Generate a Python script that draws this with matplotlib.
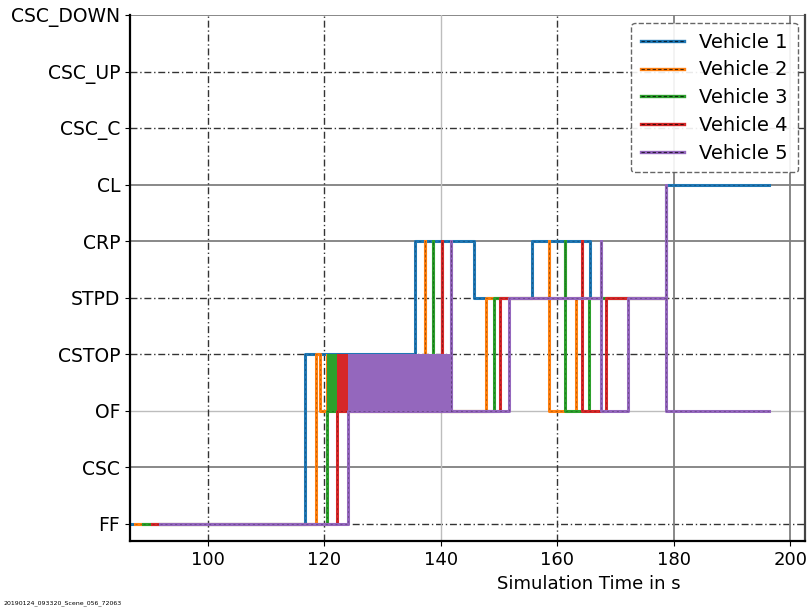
import numpy as np
import matplotlib
matplotlib.use("Agg")
import matplotlib.pyplot as plt
from matplotlib.lines import Line2D

# ------------------------------------------------------------
# Etats (axe y) et traces des vehicules
# ------------------------------------------------------------
states = ['FF', 'CSC', 'OF', 'CSTOP', 'STPD', 'CRP', 'CL', 'CSC_C', 'CSC_UP', 'CSC_DOWN']
S = {name: i for i, name in enumerate(states)}

vehicles = ['Vehicle 1', 'Vehicle 2', 'Vehicle 3', 'Vehicle 4', 'Vehicle 5']
colors = ['#1f77b4', '#ff7f0e', '#2ca02c', '#d62728', '#9467bd']

# instants de changement d'etat (s) et etat atteint
t_v1 = [86.3, 116.65, 135.54, 145.67, 155.62, 165.58, 178.63, 196.31]
s_v1 = ['FF', 'CSTOP', 'CRP', 'STPD', 'CRP', 'STPD', 'CL', 'CL']

t_v2 = [87.47, 118.54, 119.23, 137.25, 137.25, 147.73, 158.54, 158.54, 163.18, 178.63]
s_v2 = ['FF', 'CSTOP', 'OF', 'CRP', 'OF', 'STPD', 'CRP', 'OF', 'STPD', 'STPD']

t_v3 = [88.84, 120.43, 138.63, 138.63, 149.10, 161.29, 161.29, 165.41, 178.63]
s_v3 = ['FF', 'OF', 'CRP', 'OF', 'STPD', 'CRP', 'OF', 'STPD', 'STPD']

t_v4 = [90.39, 122.15, 140.17, 140.17, 150.13, 164.21, 164.21, 168.33, 178.63]
s_v4 = ['FF', 'OF', 'CRP', 'OF', 'STPD', 'CRP', 'OF', 'STPD', 'STPD']

t_v5 = [91.76, 124.03, 141.72, 141.72, 151.67, 167.47, 167.47, 172.10, 178.63, 178.63, 196.31]
s_v5 = ['FF', 'OF', 'CRP', 'OF', 'STPD', 'CRP', 'OF', 'STPD', 'CL', 'OF', 'OF']

# oscillation rapide OF <-> CSTOP (debut, fin) ; None = pas d'oscillation
osc = [None, (120.3, 137.25), (120.43, 138.63), (122.15, 140.17), (124.03, 141.72)]

times = [t_v1, t_v2, t_v3, t_v4, t_v5]
traces = [s_v1, s_v2, s_v3, s_v4, s_v5]

x_ticks = [100, 120, 140, 160, 180, 200]

# ------------------------------------------------------------
fig = plt.figure(figsize=(8.11, 6.09), dpi=100)
ax = fig.add_axes([0.160, 0.112, 0.833, 0.863])

# grille (melange pointilles sombres / traits gris)
hstyle = {'FF': 'd', 'CSC': 'g', 'OF': 'l', 'CSTOP': 'd', 'STPD': 'd',
          'CRP': 'g', 'CL': 'g', 'CSC_C': 'd', 'CSC_UP': 'd', 'CSC_DOWN': 'g'}
vstyle = {100: 'd', 120: 'd', 140: 'l', 160: 'd', 180: 'g', 200: 'g'}
kw = {'d': dict(color='#333333', lw=1.0, ls=(0, (5, 2, 1, 2))),
      'g': dict(color='#7f7f7f', lw=1.3, ls='-'),
      'l': dict(color='#bdbdbd', lw=1.0, ls='-')}
for name in states:
    ax.axhline(S[name], zorder=0, **kw[hstyle[name]])
for xv in x_ticks:
    ax.axvline(xv, zorder=0, **kw[vstyle[xv]])

handles = []
for i in range(5):
    y = [S[s] for s in traces[i]]
    if osc[i] is not None:
        ax.fill_between(list(osc[i]), S['OF'], S['CSTOP'], color=colors[i],
                        lw=0, zorder=2 + i)
    ax.plot(times[i], y, drawstyle='steps-post', color=colors[i], lw=2.2,
            zorder=2 + i)
    ax.plot(times[i], y, drawstyle='steps-post', color='black', lw=0.5,
            ls=(0, (3, 4)), alpha=0.35, zorder=2 + i)
    h1 = Line2D([], [], color=colors[i], lw=2.4)
    h2 = Line2D([], [], color='black', lw=0.8, ls=(0, (3, 2)), alpha=0.7)
    handles.append((h1, h2))

ax.set_xlim(86.6, 202.6)
ax.set_ylim(-0.3, 9)
ax.set_yticks(range(len(states)))
ax.set_yticklabels(states, fontsize=13.5)
ax.set_xticks(x_ticks)
ax.set_xticklabels([str(v) for v in x_ticks], fontsize=13)
ax.set_xlabel('Simulation Time in s', fontsize=13)
ax.xaxis.set_label_coords(0.68, -0.065)
for sp in ['left', 'bottom']:
    ax.spines[sp].set_linewidth(1.6)
ax.spines['right'].set_color('#444444')
ax.spines['right'].set_linewidth(1.6)
ax.spines['top'].set_visible(False)

leg = ax.legend(handles, vehicles, loc='upper right', fontsize=14,
                handlelength=2.2, framealpha=0.9, borderaxespad=0.4,
                labelspacing=0.45, borderpad=0.5)
leg.get_frame().set_edgecolor('#555555')
leg.get_frame().set_linestyle('--')

fig.text(0.004, 0.008, '20190124_093320_Scene_056_72063', fontsize=4.5)

fig.savefig('out.png', dpi=100)
